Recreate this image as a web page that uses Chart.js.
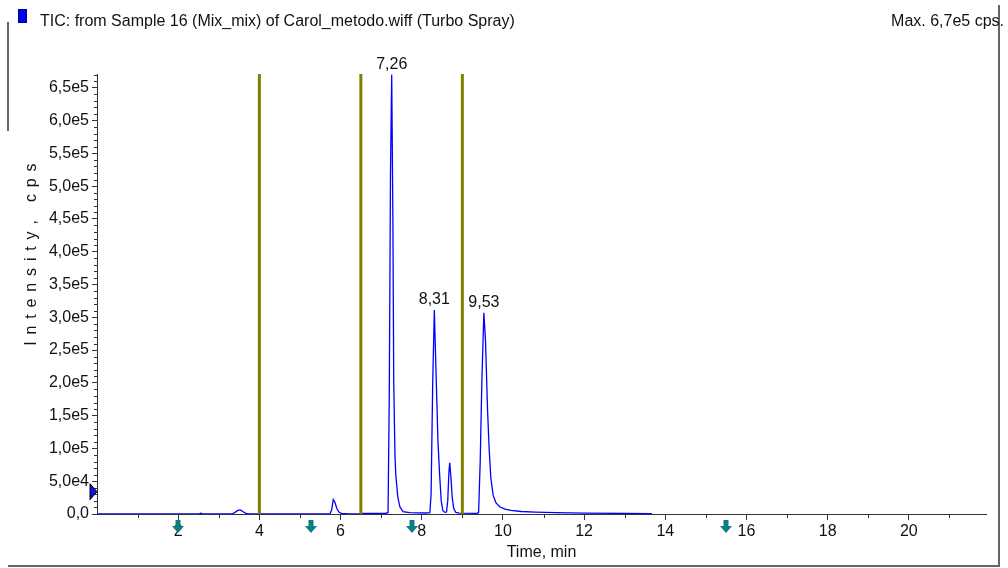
<!DOCTYPE html>
<html>
<head>
<meta charset="utf-8">
<script src="https://cdn.jsdelivr.net/npm/chart.js@4.4.1/dist/chart.umd.min.js"></script>
<style>
  html, body { margin: 0; padding: 0; background: #fff; }
  #wrap { width: 1008px; height: 568px; }
</style>
</head>
<body>
<div id="wrap"><canvas id="chart" width="1008" height="568"></canvas></div>
<script>
// TIC trace: retention time (min) and intensity (cps)
const ticTime = [
  0.00, 2.50, 2.56, 2.62, 3.32, 3.40, 3.47, 3.53, 3.60, 3.67, 3.75,
  5.74, 5.78, 5.82, 5.86, 5.91, 5.96, 6.02, 6.20, 6.50, 6.55, 7.10,
  7.17, 7.20, 7.23, 7.26, 7.29, 7.31, 7.34, 7.36, 7.41, 7.46, 7.54, 7.70, 7.90, 8.10,
  8.20, 8.23, 8.27, 8.31, 8.35, 8.40, 8.44, 8.48, 8.52, 8.57,
  8.61, 8.64, 8.67, 8.69, 8.72, 8.75, 8.79, 8.84, 8.92, 9.35,
  9.40, 9.44, 9.48, 9.53, 9.57, 9.62, 9.66, 9.70, 9.76, 9.83, 9.92,
  10.05, 10.20, 10.45, 10.80, 11.30, 12.00, 13.00, 13.67
];
const ticIntensity = [
  0, 0, 1200, 0, 0, 2500, 5500, 6200, 3500, 800, 0,
  0, 6000, 22000, 18000, 8000, 3000, 1000, 300, 0, 800, 800,
  2000, 180000, 520000, 670000, 440000, 200000, 90000, 60000, 26000, 11000, 3500, 2000, 1700, 1500,
  2000, 30000, 200000, 311000, 220000, 110000, 60000, 20000, 5000, 2500,
  3000, 20000, 65000, 78000, 55000, 25000, 8000, 2500, 1200, 1000,
  2000, 80000, 200000, 307000, 265000, 160000, 100000, 56000, 28000, 17000, 11000,
  7500, 5500, 3800, 2800, 2000, 1400, 900, 700
];

// vertical window markers (min)
const markerLines = [4.0, 6.5, 9.0];
// labelled apexes
const peakTimes = [7.26, 8.31, 9.53];
const peakLabels = ['7,26', '8,31', '9,53'];
// teal arrows under the time axis (min)
const arrowTimes = [2.0, 5.27, 7.77, 15.5];
// threshold marker on the intensity axis (cps)
const thresholdLevel = 34000;

const xMax = 21.9;
const yMax = 671000;
const xTicks = [2, 4, 6, 8, 10, 12, 14, 16, 18, 20];
const xMinorTicks = [1, 3, 5, 7, 9, 11, 13, 15, 17, 19, 21];
const yTicks = [0, 50000, 100000, 150000, 200000, 250000, 300000, 350000,
                400000, 450000, 500000, 550000, 600000, 650000];
const yTickLabels = ['0,0', '5,0e4', '1,0e5', '1,5e5', '2,0e5', '2,5e5', '3,0e5', '3,5e5',
                     '4,0e5', '4,5e5', '5,0e5', '5,5e5', '6,0e5', '6,5e5'];
const yMinorStep = 10000;

const FONT = '"Liberation Sans", Arial, sans-serif';
Chart.defaults.font.family = FONT;
Chart.defaults.color = '#111';

const decorations = {
  id: 'decorations',
  afterDraw(chart) {
    const ctx = chart.ctx;
    const xs = chart.scales.x;
    const ys = chart.scales.y;
    const area = chart.chartArea;
    ctx.save();

    // frame pieces
    ctx.strokeStyle = '#666';
    ctx.lineWidth = 2;
    ctx.beginPath();
    ctx.moveTo(8, 22); ctx.lineTo(8, 131);
    ctx.moveTo(999, 5); ctx.lineTo(999, 567);
    ctx.moveTo(8, 566); ctx.lineTo(999, 566);
    ctx.stroke();

    // header
    ctx.fillStyle = '#0000ff';
    ctx.fillRect(18, 9, 9, 14);
    ctx.strokeStyle = '#000080';
    ctx.lineWidth = 1;
    ctx.strokeRect(18.5, 9.5, 8, 13);
    ctx.fillStyle = '#111';
    ctx.font = '16px ' + FONT;
    ctx.textBaseline = 'alphabetic';
    ctx.textAlign = 'left';
    ctx.fillText('TIC: from Sample 16 (Mix_mix) of Carol_metodo.wiff (Turbo Spray)', 40, 26);
    ctx.textAlign = 'right';
    ctx.fillText('Max. 6,7e5 cps.', 1004, 26);

    // y title, spaced out
    ctx.save();
    ctx.translate(32, 254);
    ctx.rotate(-Math.PI / 2);
    ctx.textAlign = 'center';
    ctx.textBaseline = 'middle';
    ctx.letterSpacing = '1.2px';
    ctx.fillText('I n t e n s i t y ,   c p s', 0, 0);
    ctx.restore();

    // minor ticks
    ctx.strokeStyle = '#333';
    ctx.lineWidth = 1;
    ctx.beginPath();
    xMinorTicks.forEach(v => {
      const px = Math.round(xs.getPixelForValue(v)) + 0.5;
      ctx.moveTo(px, area.bottom);
      ctx.lineTo(px, area.bottom + 4);
    });
    for (let v = 0; v <= yMax; v += yMinorStep) {
      if (v % 50000 === 0) continue;
      const py = Math.round(ys.getPixelForValue(v)) + 0.5;
      ctx.moveTo(area.left - 3, py);
      ctx.lineTo(area.left, py);
    }
    ctx.stroke();

    // apex labels
    ctx.fillStyle = '#111';
    ctx.textAlign = 'center';
    ctx.textBaseline = 'middle';
    peakTimes.forEach((t, i) => {
      const h = ticIntensity[ticTime.indexOf(t)];
      ctx.fillText(peakLabels[i], xs.getPixelForValue(t), ys.getPixelForValue(h) - 10);
    });

    // threshold triangle on the y axis
    const ty = ys.getPixelForValue(thresholdLevel);
    ctx.fillStyle = '#1010e0';
    ctx.strokeStyle = '#000';
    ctx.beginPath();
    ctx.moveTo(area.left - 7, ty - 8);
    ctx.lineTo(area.left, ty);
    ctx.lineTo(area.left - 7, ty + 8);
    ctx.closePath();
    ctx.fill();
    ctx.stroke();

    // arrows below the time axis
    ctx.fillStyle = '#0b7f80';
    arrowTimes.forEach(t => {
      const cx = Math.round(xs.getPixelForValue(t));
      const top = area.bottom + 6;
      ctx.fillRect(cx - 2.5, top, 5, 7);
      ctx.beginPath();
      ctx.moveTo(cx - 6, top + 6);
      ctx.lineTo(cx + 6, top + 6);
      ctx.lineTo(cx, top + 13);
      ctx.closePath();
      ctx.fill();
    });

    ctx.restore();
  }
};

const datasets = [
  {
    data: ticTime.map((t, i) => ({ x: t, y: ticIntensity[i] })),
    borderColor: '#0000ff',
    borderWidth: 1.3,
    pointRadius: 0,
    tension: 0,
    order: 1
  },
  ...markerLines.map(t => ({
    data: [{ x: t, y: 0 }, { x: t, y: yMax }],
    borderColor: '#808000',
    borderWidth: 3,
    pointRadius: 0,
    order: 0
  }))
];

new Chart(document.getElementById('chart'), {
  type: 'line',
  data: { datasets },
  options: {
    responsive: false,
    animation: false,
    devicePixelRatio: 1,
    layout: { padding: { top: 74, right: 22, left: 0, bottom: 0 } },
    plugins: { legend: { display: false }, tooltip: { enabled: false } },
    scales: {
      x: {
        type: 'linear',
        min: 0,
        max: xMax,
        afterBuildTicks: s => { s.ticks = xTicks.map(v => ({ value: v })); },
        afterFit: s => { s.height = 54; },
        ticks: { font: { size: 16 }, padding: 2, maxRotation: 0, autoSkip: false, color: '#111' },
        grid: { drawOnChartArea: false, tickLength: 6, color: '#333' },
        border: { color: '#333', width: 1 },
        title: { display: true, text: 'Time, min', font: { size: 16 }, color: '#111', padding: { top: 0, bottom: 6 } }
      },
      y: {
        min: 0,
        max: yMax,
        afterBuildTicks: s => { s.ticks = yTicks.map(v => ({ value: v })); },
        afterFit: s => { s.width = 97; },
        ticks: { font: { size: 16 }, padding: 3, color: '#111', callback: (v, i) => yTickLabels[i] },
        grid: { drawOnChartArea: false, tickLength: 5, color: '#333' },
        border: { color: '#333', width: 1 }
      }
    }
  },
  plugins: [decorations]
});
</script>
</body>
</html>
